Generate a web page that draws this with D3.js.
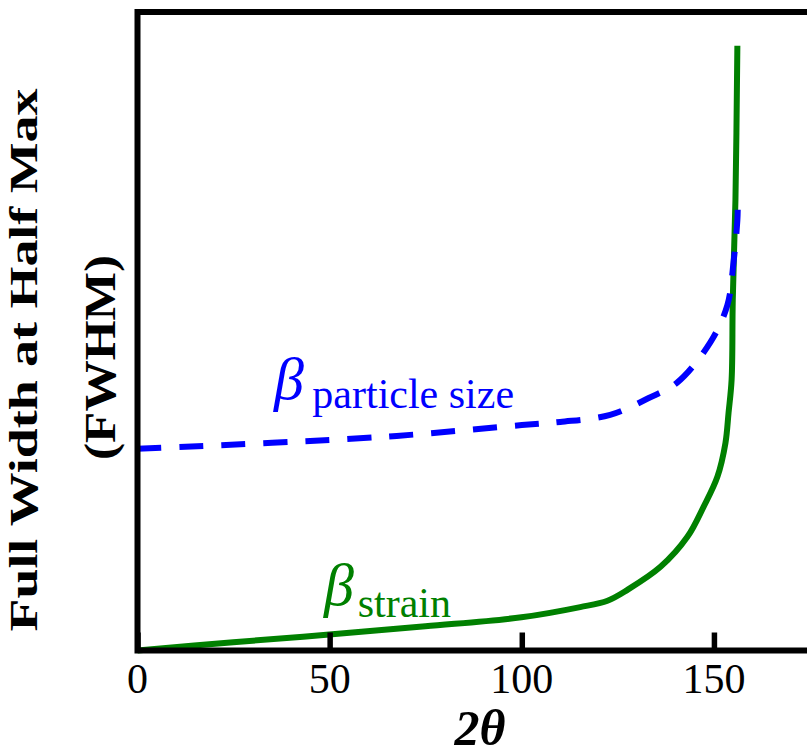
<!DOCTYPE html>
<html>
<head>
<meta charset="utf-8">
<script src="https://cdn.jsdelivr.net/npm/d3@7"></script>
<style>
  body { margin: 0; background: #fff; }
  svg { display: block; }
</style>
</head>
<body>
<svg id="chart" width="807" height="755"></svg>
<script>
// values (y in arbitrary units, 0..10)
var xTicks = [0, 50, 100, 150];

var strainX = [0, 24.9, 49.9, 74.9, 99.9, 115.2, 122.3, 127.5, 136.1, 143.1, 147.3, 150.9, 153.0, 153.8, 154.6, 154.9, 155.6, 156.1];
var strainY = [0, 0.13, 0.25, 0.38, 0.52, 0.68, 0.78, 0.95, 1.31, 1.78, 2.25, 2.72, 3.25, 3.72, 4.24, 5.49, 7.06, 9.47];

var sizeX = [0, 62.4, 100, 110, 123, 132.9, 140.5, 149.1, 153.5, 155.1, 156.1, 156.2];
var sizeY = [3.16, 3.34, 3.53, 3.58, 3.69, 3.95, 4.2, 4.83, 5.41, 6.08, 6.74, 6.93];

var serif = "'Liberation Serif', 'Times New Roman', Times, serif";

var svg = d3.select('#chart');

var x = d3.scaleLinear().domain([0, 175]).range([137.5, 810]);
var y = d3.scaleLinear().domain([0, 10]).range([650.5, 12]);

var line = d3.line()
    .x(function(d) { return x(d[0]); })
    .y(function(d) { return y(d[1]); })
    .curve(d3.curveCatmullRom.alpha(0.5));

var strain = strainX.map(function(v, i) { return [v, strainY[i]]; });
var size = sizeX.map(function(v, i) { return [v, sizeY[i]]; });

// green strain curve
svg.append('path')
    .attr('d', line(strain))
    .attr('fill', 'none')
    .attr('stroke', '#008000')
    .attr('stroke-width', 6);

// blue dashed particle size curve
svg.append('path')
    .attr('d', line(size))
    .attr('fill', 'none')
    .attr('stroke', '#0000ff')
    .attr('stroke-width', 6)
    .attr('stroke-dasharray', '24,18');

// frame
svg.append('rect')
    .attr('x', x(0))
    .attr('y', y(10))
    .attr('width', x(175) - x(0))
    .attr('height', y(0) - y(10))
    .attr('fill', 'none')
    .attr('stroke', '#000')
    .attr('stroke-width', 6);

// inward ticks
var xAxis = d3.axisTop(x).tickValues(xTicks).tickSize(18).tickFormat('');
var gx = svg.append('g')
    .attr('transform', 'translate(0,' + y(0) + ')')
    .call(xAxis);
gx.select('.domain').remove();
gx.selectAll('.tick line').attr('stroke', '#000').attr('stroke-width', 5.5);

svg.selectAll('.xlab')
    .data(xTicks)
    .enter()
    .append('text')
    .attr('class', 'xlab')
    .attr('x', function(d) { return x(d); })
    .attr('y', 693)
    .attr('text-anchor', 'middle')
    .attr('font-family', serif)
    .attr('font-size', 42)
    .text(function(d) { return d; });

// axis titles
svg.append('text')
    .attr('x', 480)
    .attr('y', 745)
    .attr('text-anchor', 'middle')
    .attr('font-family', serif)
    .attr('font-size', 50)
    .attr('font-weight', 'bold')
    .attr('font-style', 'italic')
    .text('2θ');

svg.append('text')
    .attr('transform', 'translate(37,360) rotate(-90)')
    .attr('text-anchor', 'middle')
    .attr('font-family', serif)
    .attr('font-size', 40)
    .attr('font-weight', 'bold')
    .attr('textLength', 543)
    .attr('lengthAdjust', 'spacingAndGlyphs')
    .text('Full Width at Half Max');

svg.append('text')
    .attr('transform', 'translate(115,357.5) rotate(-90)')
    .attr('text-anchor', 'middle')
    .attr('font-family', serif)
    .attr('font-size', 44)
    .attr('font-weight', 'bold')
    .attr('textLength', 205)
    .attr('lengthAdjust', 'spacingAndGlyphs')
    .text('(FWHM)');

// curve labels
function betaLabel(bx, by, sx, sy, sub, clr) {
    svg.append('text')
        .attr('x', x(bx)).attr('y', y(by))
        .attr('font-family', serif)
        .attr('font-size', 60)
        .attr('font-style', 'italic')
        .attr('fill', clr)
        .text('β');
    svg.append('text')
        .attr('x', x(sx)).attr('y', y(sy))
        .attr('font-family', serif)
        .attr('font-size', 42)
        .attr('fill', clr)
        .text(sub);
}

betaLabel(35.5, 3.94, 45.5, 3.80, 'particle size', '#0000ff');
betaLabel(48.5, 0.71, 57.3, 0.53, 'strain', '#008000');
</script>
</body>
</html>
